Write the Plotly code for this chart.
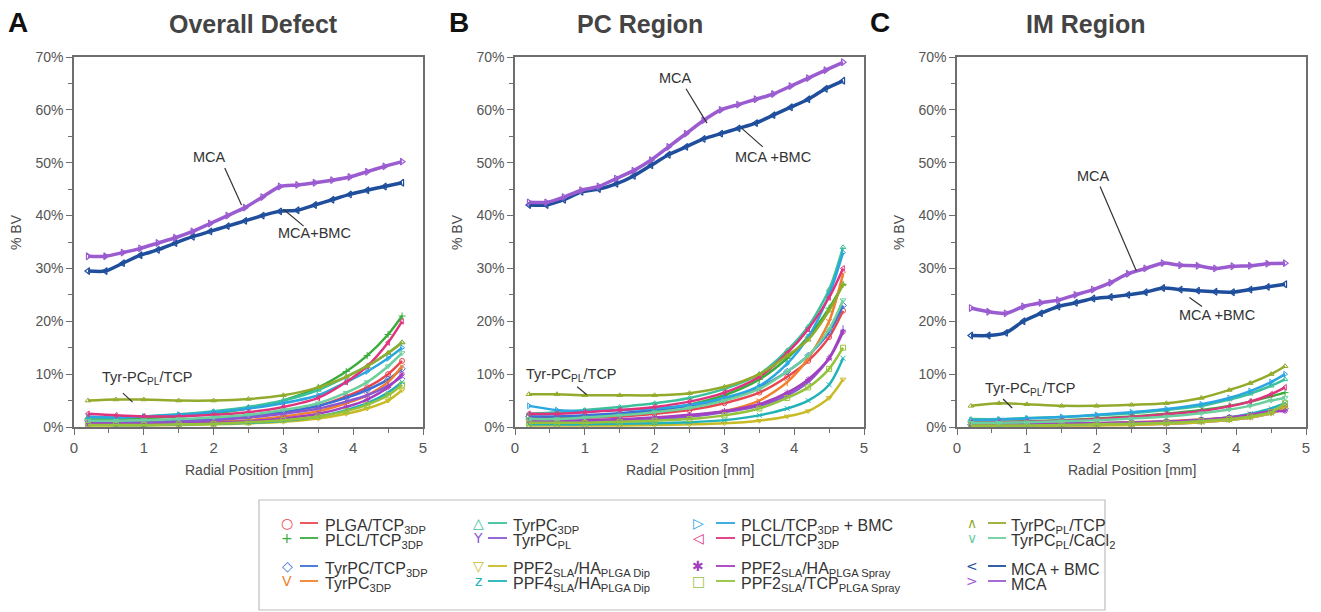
import plotly.graph_objects as go

# ---------------- data ----------------
X_LOW = [0.2, 0.6, 1.0, 1.5, 2.0, 2.5, 3.0, 3.5, 3.9, 4.2, 4.5, 4.7]
X_MCA = [0.2, 0.45, 0.7, 0.95, 1.2, 1.45, 1.7, 1.95, 2.2, 2.45, 2.7, 2.95,
         3.2, 3.45, 3.7, 3.95, 4.2, 4.45, 4.7]

SERIES_NAMES = ["PLGA/TCP3DP", "PLCL/TCP3DP", "TyrPC/TCP3DP", "TyrPC3DP (V)",
                "TyrPC3DP", "TyrPCPL", "PPF2SLA/HA PLGA Dip", "PPF4SLA/HA PLGA Dip",
                "PLCL/TCP3DP + BMC", "PLCL/TCP3DP (<)", "PPF2SLA/HA PLGA Spray",
                "PPF2SLA/TCP PLGA Spray", "TyrPCPL/TCP", "TyrPCPL/CaCl2"]

# Panel A: Overall Defect (% BV)
A_PLGA_TCP = [1.5, 1.3, 1.2, 1.3, 1.5, 2.0, 2.8, 4.0, 5.8, 7.5, 10.0, 12.5]
A_PLCL_TCP = [1.5, 1.5, 1.7, 2.0, 2.6, 3.5, 5.0, 7.5, 10.5, 13.5, 17.5, 21.0]
A_TYRPC_TCP = [1.2, 1.0, 1.0, 1.2, 1.5, 2.0, 2.8, 4.0, 5.5, 7.0, 9.0, 11.0]
A_TYRPC3DP_V = [0.8, 0.7, 0.7, 0.8, 1.0, 1.3, 2.0, 3.0, 4.5, 6.0, 8.5, 11.5]
A_TYRPC3DP = [1.8, 1.8, 2.0, 2.4, 3.0, 3.8, 5.0, 7.0, 9.5, 11.5, 14.0, 16.0]
A_TYRPCPL = [1.0, 0.9, 0.9, 1.0, 1.3, 1.8, 2.5, 3.5, 4.8, 6.0, 7.8, 9.5]
A_PPF2_DIP = [0.3, 0.3, 0.3, 0.4, 0.5, 0.7, 1.0, 1.6, 2.5, 3.5, 5.0, 7.0]
A_PPF4_DIP = [0.5, 0.4, 0.4, 0.5, 0.6, 0.8, 1.2, 2.0, 3.2, 4.5, 6.5, 8.5]
A_PLCL_BMC = [2.0, 1.8, 2.0, 2.3, 2.8, 3.5, 4.5, 6.0, 8.5, 10.5, 13.0, 15.0]
A_PLCL_TCP2 = [2.5, 2.2, 2.0, 2.0, 2.3, 2.8, 3.8, 5.5, 8.5, 11.5, 16.0, 20.0]
A_PPF2_SPRAY = [0.6, 0.5, 0.5, 0.6, 0.8, 1.1, 1.6, 2.5, 3.8, 5.2, 7.5, 10.0]
A_PPF2_TCP_SPRAY = [0.4, 0.4, 0.4, 0.5, 0.6, 0.9, 1.3, 2.0, 3.0, 4.2, 6.0, 8.0]
A_TYRPCPL_TCP = [5.0, 5.2, 5.2, 5.0, 5.0, 5.3, 6.0, 7.5, 9.5, 11.5, 14.0, 16.0]
A_TYRPCPL_CACL = [1.2, 1.2, 1.3, 1.5, 1.8, 2.3, 3.2, 4.5, 6.5, 8.5, 11.5, 14.0]
A_MCA_BMC = [29.5, 29.5, 31.0, 32.5, 33.5, 34.8, 36.0, 37.0, 38.0, 39.0, 40.0, 40.8,
             41.0, 42.0, 43.0, 44.0, 44.8, 45.5, 46.2]
A_MCA = [32.3, 32.3, 33.0, 33.8, 34.8, 35.8, 37.0, 38.5, 40.0, 41.5, 43.5, 45.5,
         45.8, 46.2, 46.7, 47.3, 48.3, 49.3, 50.2]

# Panel B: PC Region
B_PLGA_TCP = [2.0, 1.8, 1.8, 2.0, 2.5, 3.2, 4.5, 6.5, 9.5, 12.5, 17.0, 22.0]
B_PLCL_TCP = [1.5, 1.5, 1.8, 2.3, 3.0, 4.2, 6.0, 9.0, 13.0, 17.0, 22.5, 27.0]
B_TYRPC_TCP = [2.0, 2.0, 2.2, 2.6, 3.2, 4.0, 5.3, 7.5, 10.5, 13.5, 18.0, 23.0]
B_TYRPC3DP_V = [1.0, 1.0, 1.0, 1.2, 1.5, 2.0, 3.0, 5.0, 8.5, 13.0, 20.0, 29.0]
B_TYRPC3DP = [2.5, 2.8, 3.2, 3.8, 4.5, 5.5, 7.2, 10.0, 14.5, 19.0, 26.0, 34.0]
B_TYRPCPL = [1.0, 1.0, 1.0, 1.2, 1.5, 2.0, 2.8, 4.0, 6.0, 8.5, 13.0, 18.5]
B_PPF2_DIP = [0.3, 0.3, 0.3, 0.3, 0.4, 0.5, 0.7, 1.2, 2.0, 3.0, 5.5, 9.0]
B_PPF4_DIP = [0.5, 0.5, 0.5, 0.6, 0.7, 0.9, 1.3, 2.2, 3.5, 5.0, 8.0, 13.0]
B_PLCL_BMC = [4.0, 3.2, 3.0, 3.2, 3.5, 4.2, 5.5, 7.8, 12.0, 17.0, 25.0, 33.0]
B_PLCL_TCP2 = [2.5, 2.5, 2.8, 3.2, 3.8, 4.8, 6.5, 9.5, 14.0, 18.5, 24.5, 30.0]
B_PPF2_SPRAY = [1.2, 1.2, 1.3, 1.5, 1.8, 2.3, 3.0, 4.3, 6.5, 9.0, 13.0, 18.0]
B_PPF2_TCP_SPRAY = [0.8, 0.8, 0.8, 1.0, 1.2, 1.5, 2.2, 3.5, 5.5, 7.5, 11.0, 15.0]
B_TYRPCPL_TCP = [6.2, 6.2, 6.0, 6.0, 6.0, 6.4, 7.6, 10.0, 13.5, 16.5, 22.0, 27.0]
B_TYRPCPL_CACL = [1.5, 1.5, 1.8, 2.2, 2.8, 3.6, 5.0, 7.2, 10.5, 13.5, 18.5, 24.0]
B_MCA_BMC = [42.0, 42.0, 43.0, 44.5, 45.0, 46.0, 47.5, 49.5, 51.5, 53.0, 54.5, 55.5,
             56.5, 57.5, 59.0, 60.5, 62.0, 64.0, 65.5]
B_MCA = [42.5, 42.5, 43.5, 44.8, 45.5, 47.0, 48.5, 50.5, 53.0, 55.5, 58.0, 60.0,
         61.0, 62.0, 63.0, 64.5, 66.0, 67.5, 69.0]

# Panel C: IM Region
C_PLGA_TCP = [0.5, 0.5, 0.5, 0.6, 0.7, 0.9, 1.1, 1.4, 1.8, 2.3, 3.0, 4.0]
C_PLCL_TCP = [1.0, 1.0, 1.1, 1.3, 1.6, 2.0, 2.5, 3.2, 4.0, 4.8, 5.8, 6.5]
C_TYRPC_TCP = [0.5, 0.5, 0.5, 0.6, 0.7, 0.8, 1.0, 1.3, 1.7, 2.2, 2.8, 3.5]
C_TYRPC3DP_V = [0.3, 0.3, 0.3, 0.4, 0.5, 0.6, 0.8, 1.1, 1.5, 2.0, 2.8, 3.8]
C_TYRPC3DP = [1.5, 1.5, 1.7, 1.9, 2.2, 2.6, 3.2, 4.0, 5.2, 6.3, 7.8, 9.0]
C_TYRPCPL = [0.3, 0.3, 0.3, 0.3, 0.4, 0.5, 0.6, 0.9, 1.3, 1.8, 2.6, 3.5]
C_PPF2_DIP = [0.2, 0.2, 0.2, 0.3, 0.3, 0.4, 0.6, 0.9, 1.3, 1.8, 2.6, 3.5]
C_PPF4_DIP = [0.4, 0.4, 0.4, 0.5, 0.6, 0.7, 0.9, 1.3, 1.8, 2.5, 3.5, 4.5]
C_PLCL_BMC = [1.3, 1.4, 1.6, 1.9, 2.3, 2.8, 3.4, 4.3, 5.5, 6.8, 8.5, 10.0]
C_PLCL_TCP2 = [0.8, 0.9, 1.0, 1.2, 1.5, 1.9, 2.4, 3.0, 3.9, 4.8, 6.2, 7.5]
C_PPF2_SPRAY = [0.5, 0.5, 0.5, 0.6, 0.7, 0.8, 1.0, 1.3, 1.8, 2.3, 3.0, 3.0]
C_PPF2_TCP_SPRAY = [0.3, 0.3, 0.3, 0.4, 0.5, 0.6, 0.8, 1.1, 1.5, 2.0, 2.8, 4.5]
C_TYRPCPL_TCP = [4.0, 4.5, 4.3, 4.0, 4.0, 4.2, 4.5, 5.5, 7.0, 8.3, 10.0, 11.5]
C_TYRPCPL_CACL = [0.8, 0.8, 0.9, 1.1, 1.3, 1.6, 2.0, 2.6, 3.3, 4.0, 5.0, 5.5]
C_MCA_BMC = [17.3, 17.3, 17.8, 20.0, 21.5, 22.8, 23.5, 24.3, 24.6, 25.0, 25.5, 26.3,
             26.0, 25.8, 25.6, 25.5, 26.0, 26.5, 27.0]
C_MCA = [22.5, 21.8, 21.5, 22.8, 23.5, 24.0, 25.0, 26.0, 27.3, 29.0, 30.0, 31.0,
         30.6, 30.5, 30.0, 30.4, 30.5, 30.9, 31.0]

PANEL_TITLES = ["Overall Defect", "PC Region", "IM Region"]
PANEL_LETTERS = ["A", "B", "C"]
Y_TICKS = [0, 10, 20, 30, 40, 50, 60, 70]
Y_TICK_TEXT = ["0%", "10%", "20%", "30%", "40%", "50%", "60%", "70%"]
X_TICKS = [0, 1, 2, 3, 4, 5]

LOW = {
    "A": [A_PLGA_TCP, A_PLCL_TCP, A_TYRPC_TCP, A_TYRPC3DP_V, A_TYRPC3DP, A_TYRPCPL,
          A_PPF2_DIP, A_PPF4_DIP, A_PLCL_BMC, A_PLCL_TCP2, A_PPF2_SPRAY,
          A_PPF2_TCP_SPRAY, A_TYRPCPL_TCP, A_TYRPCPL_CACL],
    "B": [B_PLGA_TCP, B_PLCL_TCP, B_TYRPC_TCP, B_TYRPC3DP_V, B_TYRPC3DP, B_TYRPCPL,
          B_PPF2_DIP, B_PPF4_DIP, B_PLCL_BMC, B_PLCL_TCP2, B_PPF2_SPRAY,
          B_PPF2_TCP_SPRAY, B_TYRPCPL_TCP, B_TYRPCPL_CACL],
    "C": [C_PLGA_TCP, C_PLCL_TCP, C_TYRPC_TCP, C_TYRPC3DP_V, C_TYRPC3DP, C_TYRPCPL,
          C_PPF2_DIP, C_PPF4_DIP, C_PLCL_BMC, C_PLCL_TCP2, C_PPF2_SPRAY,
          C_PPF2_TCP_SPRAY, C_TYRPCPL_TCP, C_TYRPCPL_CACL],
}
MCA_BMC = {"A": A_MCA_BMC, "B": B_MCA_BMC, "C": C_MCA_BMC}
MCA = {"A": A_MCA, "B": B_MCA, "C": C_MCA}

# ---------------- style ----------------
COLORS = ["#e8474f", "#3aac3c", "#3a6fd6", "#f07f2e", "#3cc19c", "#8c58d0",
          "#c9bb25", "#22b3b8", "#2aa6e0", "#e0337e", "#a43fbf", "#95c23c",
          "#93ab2c", "#6ccf9e"]
SYMBOLS = ["circle-open", "cross-thin-open", "diamond-open", "y-down-open",
           "triangle-up-open", "y-up-open", "triangle-down-open", "x-thin-open",
           "triangle-right-open", "triangle-left-open", "asterisk-open",
           "square-open", "triangle-up-open", "triangle-down-open"]
MCA_BMC_COLOR = "#1f4f9c"
MCA_COLOR = "#9a5cd0"

W, H = 1321, 612
FONT = "Liberation Sans, Arial, sans-serif"
AXCOL = "#6e6e6e"
TXT = "#4a4a4a"

X_DOMAINS = [(74, 423), (515, 864), (957, 1306)]
Y_PIX = (57, 427)  # top (70%), bottom (0%)
TITLE_X = [253, 640, 1085]
LETTER_X = [18, 459, 880]


def px(x):
    return x / W


def py(y):
    return 1 - y / H


def ptext(text, x, y, size, color, family=FONT, xanchor="center", yanchor="middle", angle=0):
    return dict(text=text, x=px(x), y=py(y), xref="paper", yref="paper",
                xanchor=xanchor, yanchor=yanchor, showarrow=False, textangle=angle,
                font=dict(family=family, size=size, color=color))


fig = go.Figure()
layout_axes = {}
annotations = []
shapes = []

for i, key in enumerate(["A", "B", "C"]):
    xa = "x" if i == 0 else f"x{i+1}"
    ya = "y" if i == 0 else f"y{i+1}"
    for j, ys in enumerate(LOW[key]):
        fig.add_trace(go.Scatter(
            x=X_LOW, y=ys, xaxis=xa, yaxis=ya, mode="lines+markers",
            line=dict(color=COLORS[j], width=2.5, shape="spline", smoothing=0.8),
            marker=dict(symbol=SYMBOLS[j], size=5, color=COLORS[j],
                        line=dict(width=1, color=COLORS[j])),
            showlegend=False, name=SERIES_NAMES[j]))
    fig.add_trace(go.Scatter(
        x=X_MCA, y=MCA_BMC[key], xaxis=xa, yaxis=ya, mode="lines+markers",
        line=dict(color=MCA_BMC_COLOR, width=3.5, shape="spline", smoothing=0.6),
        marker=dict(symbol="triangle-left-open", size=6, color=MCA_BMC_COLOR,
                    line=dict(width=1.2, color=MCA_BMC_COLOR)),
        showlegend=False, name="MCA + BMC"))
    fig.add_trace(go.Scatter(
        x=X_MCA, y=MCA[key], xaxis=xa, yaxis=ya, mode="lines+markers",
        line=dict(color=MCA_COLOR, width=3.5, shape="spline", smoothing=0.6),
        marker=dict(symbol="triangle-right-open", size=6, color=MCA_COLOR,
                    line=dict(width=1.2, color=MCA_COLOR)),
        showlegend=False, name="MCA"))

    x0, x1 = X_DOMAINS[i]
    axis_common = dict(showline=True, linecolor=AXCOL, linewidth=1.5, mirror=True,
                       ticks="outside", ticklen=6, tickwidth=1.2, tickcolor=AXCOL,
                       showgrid=False, zeroline=False, automargin=False)
    layout_axes["xaxis" if i == 0 else f"xaxis{i+1}"] = dict(
        domain=[px(x0), px(x1)], range=[0, 5], tickvals=X_TICKS,
        anchor=ya,
        tickfont=dict(family=FONT, size=15, color="#555555"),
        minor=dict(dtick=0.5, ticks="outside", ticklen=4, tickcolor=AXCOL),
        **axis_common)
    layout_axes["yaxis" if i == 0 else f"yaxis{i+1}"] = dict(
        domain=[py(Y_PIX[1]), py(Y_PIX[0])], range=[0, 70], tickvals=Y_TICKS,
        ticktext=Y_TICK_TEXT, anchor=xa,
        tickfont=dict(family=FONT, size=14, color="#555555"),
        minor=dict(dtick=5, ticks="outside", ticklen=4, tickcolor=AXCOL),
        **axis_common)

    cx = (x0 + x1) / 2
    annotations.append(ptext("Radial Position [mm]", cx, 470, 14, TXT))
    annotations.append(ptext("% BV", x0 - 58, 232, 14, TXT, angle=-90))
    annotations.append(ptext("<b>" + PANEL_TITLES[i] + "</b>", TITLE_X[i], 24, 25, "#444444"))
    annotations.append(ptext("<b>" + PANEL_LETTERS[i] + "</b>", LETTER_X[i], 23, 28, "#111111"))

# curve labels with pointer lines (data coordinates)
LABELS = [
    # (panel, text, tx, ty, lx0, ly0, lx1, ly1)
    ("A", "MCA", 1.94, 51.0, 2.16, 49.0, 2.4, 42.0),
    ("A", "MCA+BMC", 3.45, 36.7, 3.29, 38.0, 3.0, 41.2),
    ("A", "Tyr-PC<sub>PL</sub>/TCP", 1.06, 9.3, 0.7, 6.4, 0.84, 4.7),
    ("B", "MCA", 2.3, 66.0, 2.45, 64.0, 2.75, 57.5),
    ("B", "MCA +BMC", 3.7, 51.0, 3.55, 53.0, 3.25, 56.5),
    ("B", "Tyr-PC<sub>PL</sub>/TCP", 0.81, 9.8, 0.89, 7.6, 1.03, 6.1),
    ("C", "MCA", 1.95, 47.5, 2.05, 45.5, 2.57, 29.5),
    ("C", "MCA +BMC", 3.73, 21.2, 3.51, 22.8, 3.33, 24.5),
    ("C", "Tyr-PC<sub>PL</sub>/TCP", 1.06, 7.2, 0.66, 5.3, 0.79, 3.6),
]
REF = {"A": ("x", "y"), "B": ("x2", "y2"), "C": ("x3", "y3")}
for pnl, txt, tx, ty, lx0, ly0, lx1, ly1 in LABELS:
    xr, yr = REF[pnl]
    annotations.append(dict(text=txt, x=tx, y=ty, xref=xr, yref=yr, showarrow=False,
                            xanchor="center", yanchor="middle",
                            font=dict(family=FONT, size=14.5, color="#333333")))
    shapes.append(dict(type="line", xref=xr, yref=yr, x0=lx0, y0=ly0, x1=lx1, y1=ly1,
                       line=dict(color="#333333", width=1.2)))

# ---------------- manual legend ----------------
shapes.append(dict(type="rect", xref="paper", yref="paper", x0=px(259), x1=px(1105),
                   y0=py(610), y1=py(500), line=dict(color="#bdbdbd", width=1.2)))

LEG_GLYPHS = ["○", "+", "◇", "V", "△", "Y", "▽", "z", "▷", "◁", "✱", "□", "∧", "∨", "<", ">"]
LEG_COLORS = COLORS + [MCA_BMC_COLOR, MCA_COLOR]
LEG_TEXT = ["PLGA/TCP<sub>3DP</sub>", "PLCL/TCP<sub>3DP</sub>", "TyrPC/TCP<sub>3DP</sub>",
            "TyrPC<sub>3DP</sub>", "TyrPC<sub>3DP</sub>", "TyrPC<sub>PL</sub>",
            "PPF2<sub>SLA</sub>/HA<sub>PLGA Dip</sub>", "PPF4<sub>SLA</sub>/HA<sub>PLGA Dip</sub>",
            "PLCL/TCP<sub>3DP</sub> + BMC", "PLCL/TCP<sub>3DP</sub>",
            "PPF2<sub>SLA</sub>/HA<sub>PLGA Spray</sub>", "PPF2<sub>SLA</sub>/TCP<sub>PLGA Spray</sub>",
            "TyrPC<sub>PL</sub>/TCP", "TyrPC<sub>PL</sub>/CaCl<sub>2</sub>",
            "MCA + BMC", "MCA"]
COLS = [(287, 300, 318, 323), (478, 488, 507, 511), (698, 716, 735, 739), (972, 988, 1006, 1009)]
ROWS = [523, 538, 566, 581]
for k in range(16):
    c = k // 4
    r = k % 4
    mx, l0, l1, tx = COLS[c]
    yy = ROWS[r]
    annotations.append(ptext(LEG_GLYPHS[k], mx, yy, 14, LEG_COLORS[k], family="DejaVu Sans"))
    shapes.append(dict(type="line", xref="paper", yref="paper", x0=px(l0), x1=px(l1),
                       y0=py(yy), y1=py(yy), line=dict(color=LEG_COLORS[k], width=1.8)))
    annotations.append(ptext(LEG_TEXT[k], tx, yy + 3, 16, "#333333", xanchor="left"))

fig.update_layout(
    width=W, height=H, autosize=False,
    margin=dict(l=0, r=0, t=0, b=0),
    paper_bgcolor="white", plot_bgcolor="white",
    showlegend=False,
    annotations=annotations, shapes=shapes,
    **layout_axes)

fig.write_html("out.html", config={"displayModeBar": False},
               post_script="document.body.style.margin='0px';")
